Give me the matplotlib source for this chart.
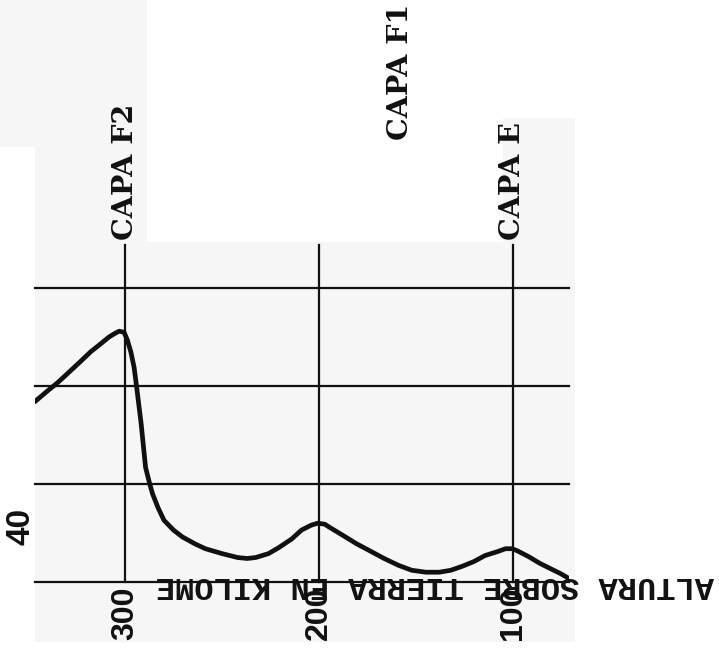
import matplotlib.pyplot as plt
from matplotlib.patches import Rectangle

# curve (altitude in km, relative intensity in grid units)
altitude = [346.5, 340, 335, 329.5, 323, 317.7, 312, 308.3, 305, 303, 300.5, 298.8,
            297, 295.3, 294, 291.7, 289.4, 287.5, 285.8, 283, 279.9, 275, 270.4,
            264, 258.6, 250, 242, 237, 232.6, 226, 220.8, 214, 209, 204, 200.7,
            197, 194.7, 188, 180.6, 173, 166.4, 159, 152.2, 145, 138, 132,
            126.2, 120, 114.4, 108, 103.8, 100.5, 97.9, 92, 86.1, 80, 75.4, 71.5]
intensity = [1.84, 1.95, 2.03, 2.13, 2.25, 2.35, 2.44, 2.50, 2.54, 2.56, 2.55, 2.47,
             2.35, 2.19, 1.99, 1.62, 1.17, 1.02, 0.90, 0.76, 0.63, 0.53, 0.46,
             0.39, 0.34, 0.29, 0.25, 0.24, 0.25, 0.29, 0.35, 0.44, 0.53, 0.58, 0.60,
             0.59, 0.56, 0.48, 0.39, 0.31, 0.24, 0.17, 0.12, 0.10, 0.10, 0.12,
             0.16, 0.21, 0.27, 0.31, 0.34, 0.34, 0.32, 0.26, 0.19, 0.13, 0.085, 0.04]

grid_levels = [0, 1, 2, 3]
layer_alt = [300, 200, 100]
layer_ticklabels = ['300', '200', '100']
layer_names = ['CAPA F2', 'CAPA E']
layer_name_alt = [300, 100]
f1_alt = 158
f1_level = 4.51
axis_title = 'ALTURA SOBRE TIERRA EN KILOME'

W, H = 719, 650
fig = plt.figure(figsize=(W / 100, H / 100), dpi=100)
fig.patch.set_facecolor('white')

# light grey paper of the scanned pieces
paper = '#f6f6f6'
for (x0, y0, x1, y1) in [(0, 0, 147, 147), (35, 147, 147, 242),
                         (35, 242, 575, 642), (503, 118, 575, 242)]:
    fig.add_artist(Rectangle((x0 / W, 1 - y1 / H), (x1 - x0) / W, (y1 - y0) / H,
                             transform=fig.transFigure, facecolor=paper,
                             edgecolor='none', zorder=-5))

ax = fig.add_axes([35 / W, (H - 582) / H, (569 - 35) / W, (582 - 245) / H])
ax.set_facecolor('none')
ax.set_xlim(346.4, 71.1)
ax.set_ylim(0, 3.44)
for s in ax.spines.values():
    s.set_visible(False)

ink = '#111111'
for lvl in grid_levels:
    ax.axhline(lvl, color=ink, lw=1.6, clip_on=False, zorder=1)
for a in layer_alt:
    ax.axvline(a, color=ink, lw=1.6, clip_on=False, zorder=1)

ax.plot(altitude, intensity, color=ink, lw=3.4, solid_capstyle='round',
        solid_joinstyle='round', zorder=3)

ax.set_yticks([])
ax.set_xticks(layer_alt)
ax.set_xticklabels(layer_ticklabels, rotation=90, fontsize=23,
                   fontweight='bold', family='Liberation Sans', va='top')
ax.tick_params(axis='x', length=0, pad=3, colors=ink)

slab = dict(family='DejaVu Serif', fontweight='bold', color=ink)
for name, a in zip(layer_names, layer_name_alt):
    ax.text(a, 3.49, name, rotation=90, ha='center', va='bottom',
            fontsize=20.5, **slab)
ax.text(f1_alt, f1_level, 'CAPA F1', rotation=90, ha='center', va='bottom',
        fontsize=20.5, clip_on=False, **slab)

# upside-down axis title sitting on the base line
ax.text(0.749, -0.009, axis_title, transform=ax.transAxes, rotation=180,
        ha='center', va='center', fontsize=23, zorder=4, fontweight='bold',
        family='Liberation Mono', color=ink)

ax.text(353.5, 0.57, '40', rotation=90, ha='center', va='center',
        fontsize=24, fontweight='bold', family='Liberation Sans',
        color=ink, clip_on=False)

fig.savefig('out.png', dpi=100)
